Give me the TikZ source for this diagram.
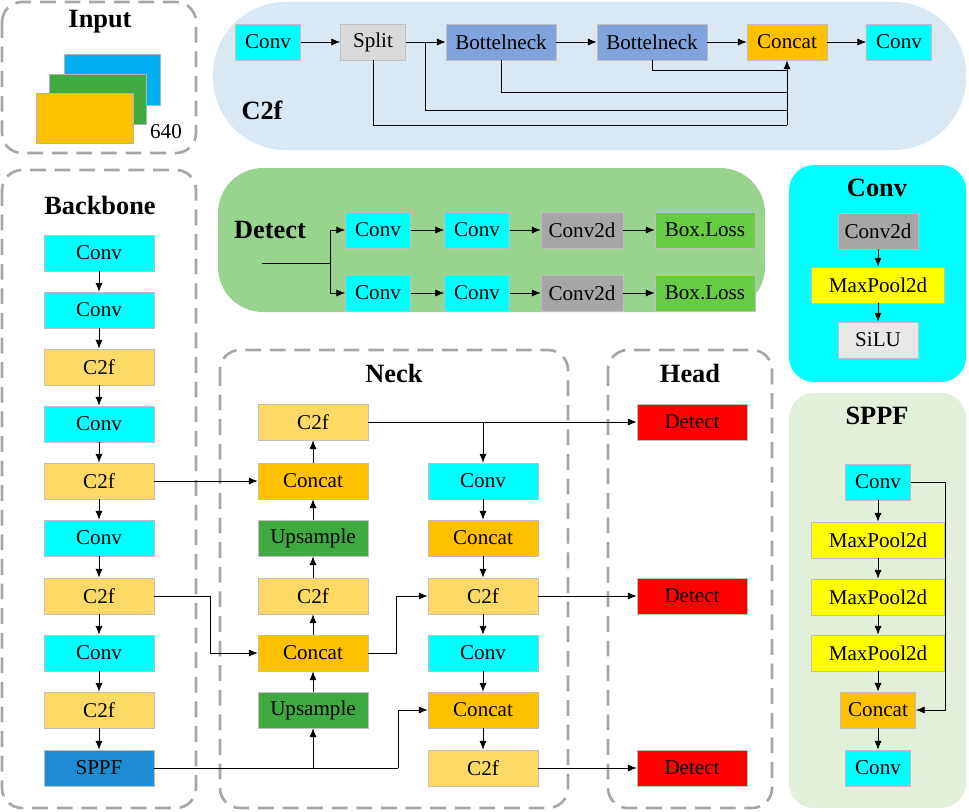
\documentclass[tikz,border=0pt]{standalone}
\usepackage{fontspec}
\setmainfont{Liberation Serif}
\usetikzlibrary{arrows.meta}
\usetikzlibrary{positioning}

\definecolor{cyanbox}{HTML}{00FFFF}
\definecolor{ctwof}{HTML}{FFD966}
\definecolor{concat}{HTML}{FFC000}
\definecolor{upsample}{HTML}{3FAA3F}
\definecolor{bottle}{HTML}{7FA3DA}
\definecolor{split}{HTML}{D9D9D9}
\definecolor{convtwod}{HTML}{A6A6A6}
\definecolor{boxloss}{HTML}{66CC44}
\definecolor{maxpool}{HTML}{FFFF00}
\definecolor{sppfbox}{HTML}{1E8CD2}
\definecolor{detect}{HTML}{FF0000}
\definecolor{inblue}{HTML}{00B0F0}
\definecolor{bgctwof}{HTML}{DAE8F4}
\definecolor{bgdetect}{HTML}{98D48E}
\definecolor{bgsppf}{HTML}{E2EFDA}

\tikzset{
    blk/.style = {draw=black!25, inner sep=0pt, minimum height=0.72cm,
            minimum width=2.2cm, font=\fontsize{12}{14}\selectfont},
    small/.style = {minimum width=1.3cm},
    title/.style = {font=\fontsize{15}{18}\selectfont\bfseries},
    frame/.style = {draw=gray!70, dashed, line width=1.5pt, dash pattern=on 9pt off 5pt,
            rounded corners=0.4cm},
    arr/.style = {-{Latex[length=5pt,width=4pt]}, thin},
    link/.style = {thin}
}

\begin{document}
\begin{tikzpicture}[x=0.02cm, y=-0.02cm]
    \useasboundingbox (0,0) rectangle (969,811);

    % Input
    \draw[frame] (2,2) rectangle (196,153);
    \node[title] (InTitle) at (100,22) {Input};
    \filldraw[fill=inblue, draw=black!30] (64,54) rectangle (160,105);
    \filldraw[fill=upsample, draw=black!30] (49,74) rectangle (146,124);
    \filldraw[fill=concat, draw=black!30] (36,93) rectangle (133,143);
    \node[font=\fontsize{12}{14}\selectfont] (Size) at (166,132) {640};

    % C2f panel
    \fill[bgctwof, rounded corners=1.45cm] (213,2) rectangle (966,150);
    \node[title] (CTitle) at (262,110) {C2f};
    \node[blk, small, fill=cyanbox] (CConvA) at (268,42) {Conv};
    \node[blk, small, fill=split] (Split) at (373,42) {Split};
    \node[blk, fill=bottle] (BotA) at (501,42) {Bottelneck};
    \node[blk, fill=bottle] (BotB) at (652,42) {Bottelneck};
    \node[blk, minimum width=1.6cm, fill=concat] (CCat) at (787,42) {Concat};
    \node[blk, small, fill=cyanbox] (CConvB) at (899,42) {Conv};
    \coordinate (SplitOut) at (425,42);
    \draw[arr] (CConvA) -- (Split);
    \draw[arr] (Split) -- (BotA);
    \draw[arr] (BotA) -- (BotB);
    \draw[arr] (BotB) -- (CCat);
    \draw[arr] (CCat) -- (CConvB);
    \draw[link] (BotB.south) |- (787,70);
    \draw[link] (BotA.south) |- (787,92);
    \draw[link] (SplitOut) |- (787,110);
    \draw[link] (Split.south) |- (787,125);
    \draw[arr] (787,125) -- (CCat.south);

    % Detect panel
    \fill[bgdetect, rounded corners=0.9cm] (218,168) rectangle (765,312);
    \node[title] (DTitle) at (270,230) {Detect};
    \coordinate (DIn) at (262,263);
    \coordinate (DFork) at (330,263);
    \foreach \r/\y in {A/230, B/293} {
        \node[blk, small, fill=cyanbox] (DConv1\r) at (378,\y) {Conv};
        \node[blk, small, fill=cyanbox] (DConv2\r) at (477,\y) {Conv};
        \node[blk, minimum width=1.64cm, fill=convtwod] (DConv2d\r) at (582,\y) {Conv2d};
        \node[blk, minimum width=2cm, fill=boxloss] (Loss\r) at (705,\y) {Box.Loss};
        \draw[arr] (DFork) |- (DConv1\r);
        \draw[arr] (DConv1\r) -- (DConv2\r);
        \draw[arr] (DConv2\r) -- (DConv2d\r);
        \draw[arr] (DConv2d\r) -- (Loss\r);
    }
    \draw[link] (DIn) -- (DFork);

    % Conv panel
    \fill[cyanbox, rounded corners=0.5cm] (789,165) rectangle (966,382);
    \node[title] (KTitle) at (877,188) {Conv};
    \node[blk, minimum width=1.6cm, fill=convtwod] (KConv2d) at (878,231) {Conv2d};
    \node[blk, minimum width=2.66cm, fill=maxpool] (KPool) at (878,285) {MaxPool2d};
    \node[blk, minimum width=1.6cm, fill=split!60] (SiLU) at (878,340) {SiLU};
    \draw[arr] (KConv2d) -- (KPool);
    \draw[arr] (KPool) -- (SiLU);

    % SPPF panel
    \fill[bgsppf, rounded corners=0.5cm] (789,393) rectangle (966,808);
    \node[title] (STitle) at (877,416) {SPPF};
    \node[blk, small, fill=cyanbox] (SConvA) at (878,482) {Conv};
    \node[blk, minimum width=2.66cm, fill=maxpool] (PoolA) at (878,540) {MaxPool2d};
    \node[blk, minimum width=2.66cm, fill=maxpool] (PoolB) at (878,597) {MaxPool2d};
    \node[blk, minimum width=2.66cm, fill=maxpool] (PoolC) at (878,653) {MaxPool2d};
    \node[blk, minimum width=1.5cm, fill=concat] (SCat) at (878,710) {Concat};
    \node[blk, small, fill=cyanbox] (SConvB) at (878,768) {Conv};
    \draw[arr] (SConvA) -- (PoolA);
    \draw[arr] (PoolA) -- (PoolB);
    \draw[arr] (PoolB) -- (PoolC);
    \draw[arr] (PoolC) -- (SCat);
    \draw[arr] (SCat) -- (SConvB);
    \draw[link] (SConvA.east) -- (945,482);
    \draw[arr] (945,482) |- (SCat.east);

    % Backbone
    \draw[frame] (2,170) rectangle (196,808);
    \node[title] (BTitle) at (100,205) {Backbone};
    \foreach \n/\y/\t/\c in {1/253/Conv/cyanbox, 2/310/Conv/cyanbox, 3/367/C2f/ctwof,
            4/424/Conv/cyanbox, 5/481/C2f/ctwof, 6/538/Conv/cyanbox, 7/596/C2f/ctwof,
            8/653/Conv/cyanbox, 9/710/C2f/ctwof} {
        \node[blk, fill=\c] (B\n) at (99,\y) {\t};
    }
    \node[blk, fill=sppfbox] (B10) at (99,768) {SPPF};
    \foreach \a/\b in {1/2, 2/3, 3/4, 4/5, 5/6, 6/7, 7/8, 8/9, 9/10} {
        \draw[arr] (B\a) -- (B\b);
    }

    % Neck
    \draw[frame] (220,350) rectangle (568,808);
    \node[title] (NTitle) at (394,373) {Neck};
    \node[blk, fill=ctwof] (L1) at (313,422) {C2f};
    \node[blk, fill=concat] (L2) at (313,481) {Concat};
    \node[blk, fill=upsample] (L3) at (313,538) {Upsample};
    \node[blk, fill=ctwof] (L4) at (313,596) {C2f};
    \node[blk, fill=concat] (L5) at (313,653) {Concat};
    \node[blk, fill=upsample] (L6) at (313,710) {Upsample};
    \node[blk, fill=cyanbox] (R1) at (483,481) {Conv};
    \node[blk, fill=concat] (R2) at (483,538) {Concat};
    \node[blk, fill=ctwof] (R3) at (483,596) {C2f};
    \node[blk, fill=cyanbox] (R4) at (483,653) {Conv};
    \node[blk, fill=concat] (R5) at (483,710) {Concat};
    \node[blk, fill=ctwof] (R6) at (483,768) {C2f};
    \foreach \a/\b in {6/5, 5/4, 4/3, 3/2, 2/1} {
        \draw[arr] (L\a) -- (L\b);
    }
    \foreach \a/\b in {1/2, 2/3, 3/4, 4/5, 5/6} {
        \draw[arr] (R\a) -- (R\b);
    }

    % Head
    \draw[frame] (608,350) rectangle (772,808);
    \node[title] (HTitle) at (690,373) {Head};
    \node[blk, fill=detect] (H1) at (692,422) {Detect};
    \node[blk, fill=detect] (H2) at (692,596) {Detect};
    \node[blk, fill=detect] (H3) at (692,768) {Detect};

    % links between parts
    \draw[arr] (B5) -- (L2);
    \draw[arr] (B7.east) -- (210,596) |- (L5.west);
    \draw[link] (B10.east) -- (398,768);
    \draw[arr] (313,768) -- (L6.south);
    \draw[arr] (398,768) |- (R5.west);
    \draw[arr] (L5.east) -- (396,653) |- (R3.west);
    \draw[arr] (L1) -- (H1);
    \draw[arr] (483,422) -- (R1.north);
    \draw[arr] (R3) -- (H2);
    \draw[arr] (R6) -- (H3);
\end{tikzpicture}
\end{document}
